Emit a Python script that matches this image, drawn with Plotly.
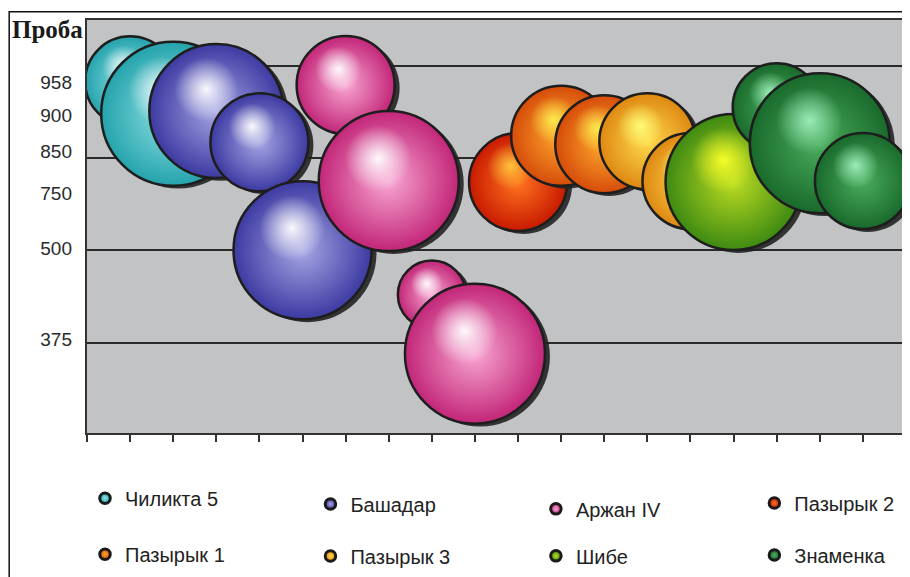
import plotly.graph_objects as go

# ---------------- data ----------------
SITES = ["Чиликта 5", "Башадар", "Аржан IV", "Пазырык 2",
         "Пазырык 1", "Пазырык 3", "Шибе", "Знаменка"]

POINT_SITE = ["Чиликта 5", "Чиликта 5",
              "Башадар", "Башадар", "Башадар",
              "Аржан IV", "Аржан IV", "Аржан IV", "Аржан IV",
              "Пазырык 2",
              "Пазырык 1", "Пазырык 1",
              "Пазырык 3", "Пазырык 3",
              "Шибе",
              "Знаменка", "Знаменка", "Знаменка"]
POINT_X = [1, 2, 3, 4, 5, 6, 7, 8, 9, 10, 11, 12, 13, 14, 15, 16, 17, 18]
POINT_Y = [3.83, 3.48, 3.51, 3.17, 2.00, 3.79, 2.75, 1.52, 0.88,
           2.74, 3.24, 3.15, 3.18, 2.75, 2.74, 3.55, 3.16, 2.75]
POINT_SIZE = [45, 72, 67, 49, 69, 49, 70, 34, 70,
              49, 50, 49, 48, 48, 68, 44, 70, 48]

Y_TICK_VALS = [1.04, 2.02, 2.62, 3.07, 3.46, 3.82]
Y_TICK_TEXT = ["375", "500", "750", "850", "900", "958"]
GRID_VALS = [1, 2, 3, 4]

# ---------------- style ----------------
OFF = 8                      # page (body) offset of the plot div
W, H = 910, 577
PL, PR, PT, PB = 87, 908, 19, 444   # plot area in screen px
ML, MR, MT, MB = PL - OFF, W - (PR - OFF), PT - OFF, H - (PB - OFF)
PW, PH = PR - PL, PB - PT
X_RANGE = [0, 19]
Y_RANGE = [0.02, 4.495]
PX_X = PW / (X_RANGE[1] - X_RANGE[0])
PX_Y = PH / (Y_RANGE[1] - Y_RANGE[0])
SIZEREF = 0.5


def sx(px):
    return (px - PL) / PW


def sy(py):
    return (PB - py) / PH


SANS = "Liberation Sans, Arial"

COLORS = {  # edge, center, highlight
    "Чиликта 5": ("#25a3ac", "#93e4e6", "255,255,255"),
    "Башадар": ("#3d3aa2", "#a6a6e4", "255,255,255"),
    "Аржан IV": ("#c22678", "#f8a6d2", "255,255,255"),
    "Пазырык 2": ("#c81a00", "#ff7420", "255,200,60"),
    "Пазырык 1": ("#d64c0a", "#ffaa2e", "255,240,80"),
    "Пазырык 3": ("#de8812", "#ffda4e", "255,255,120"),
    "Шибе": ("#3e8a12", "#bcdc22", "250,255,40"),
    "Знаменка": ("#196a2c", "#4aac5c", "160,240,190"),
}
LEGENDS = ["legend", "legend2", "legend3", "legend4"]
LEG_MARKER_X = [105, 331, 557, 776]          # screen px of legend symbols
LEG_ROW1_Y = [504, 510, 515, 509]            # screen px, row centres
LEG_ROW2_Y = [560, 562, 562, 561]

fig = go.Figure()
for i in range(len(POINT_X)):
    site = POINT_SITE[i]
    edge, center, hl = COLORS[site]
    d = POINT_SIZE[i] / SIZEREF
    # shadow
    fig.add_trace(go.Scatter(
        x=[POINT_X[i] + 5 / PX_X], y=[POINT_Y[i] - 3 / PX_Y], mode="markers",
        marker=dict(size=d, color="rgba(35,35,35,0.9)", line=dict(width=0)),
        showlegend=False, hoverinfo="skip"))
    # bubble
    fig.add_trace(go.Scatter(
        x=[POINT_X[i]], y=[POINT_Y[i]], mode="markers", name=site,
        showlegend=False,
        marker=dict(size=d, color=edge,
                    gradient=dict(type="radial", color=center),
                    line=dict(width=2.5, color="#1e1e1e"))))
    # specular highlight
    r = d / 2
    fig.add_trace(go.Scatter(
        x=[POINT_X[i] - 0.15 * r / PX_X], y=[POINT_Y[i] + 0.33 * r / PX_Y],
        mode="markers",
        marker=dict(size=0.95 * r, color="rgba(%s,0)" % hl,
                    gradient=dict(type="radial", color="rgba(%s,0.95)" % hl),
                    line=dict(width=0)),
        showlegend=False, hoverinfo="skip"))

# legend entries
for k, site in enumerate(SITES):
    edge, center, hl = COLORS[site]
    fig.add_trace(go.Scatter(
        x=[None], y=[None], mode="markers", name=site,
        legend=LEGENDS[k % 4], legendgroup=site,
        marker=dict(size=10.5, color=edge,
                    gradient=dict(type="radial", color=center),
                    line=dict(width=3, color="#1a1a1a"))))

# dummy trace to carry label axis
fig.add_trace(go.Scatter(x=[None], y=[None], yaxis="y2", showlegend=False,
                         hoverinfo="skip"))

LEG_FONT = 20
item_h = LEG_FONT * 1.3 + 3
layout_legends = {}
for j, name in enumerate(LEGENDS):
    top = LEG_ROW1_Y[j] - (item_h / 2 - 1.5)
    gap = (LEG_ROW2_Y[j] - LEG_ROW1_Y[j]) - item_h
    layout_legends[name] = dict(
        orientation="v", bgcolor="rgba(0,0,0,0)",
        font=dict(family=SANS, size=LEG_FONT, color="#222"),
        tracegroupgap=gap, xanchor="left", yanchor="top",
        x=sx(LEG_MARKER_X[j] - 20), y=sy(top),
        itemclick=False, itemdoubleclick=False)

fig.update_layout(
    width=W, height=H,
    margin=dict(l=ML, r=MR, t=MT, b=MB, pad=0),
    paper_bgcolor="white", plot_bgcolor="#c2c3c5",
    xaxis=dict(range=X_RANGE, tick0=0, dtick=1, showticklabels=False,
               ticks="outside", ticklen=7, tickwidth=2, tickcolor="#333",
               showgrid=False, zeroline=False,
               showline=True, linecolor="#333", linewidth=2, mirror=True),
    yaxis=dict(range=Y_RANGE, tickvals=GRID_VALS, showticklabels=False,
               ticks="", showgrid=True, gridcolor="#2a2a2a", gridwidth=2,
               zeroline=False, showline=True, linecolor="#333", linewidth=2,
               mirror=True),
    yaxis2=dict(range=Y_RANGE, overlaying="y", side="left", anchor="x",
                tickvals=Y_TICK_VALS, ticktext=Y_TICK_TEXT,
                tickfont=dict(family=SANS, size=19, color="#2a2a2a"),
                ticks="", ticklabelstandoff=14,
                showgrid=False, zeroline=False, showline=False),
    annotations=[dict(text="<b>Проба</b>", xref="paper", yref="paper",
                      x=sx(10), y=sy(29), xanchor="left", yanchor="middle",
                      showarrow=False,
                      font=dict(family="Liberation Serif, Times New Roman", size=25,
                                color="#1a1a1a"))],
    shapes=[dict(type="path", xref="paper", yref="paper",
                 path="M %f %f L %f %f L %f %f" % (
                     sx(9), sy(600), sx(9), sy(10.5), sx(915), sy(10.5)),
                 line=dict(color="#111", width=1.5))],
    showlegend=True,
    **layout_legends,
)

fig.write_html("out.html")
